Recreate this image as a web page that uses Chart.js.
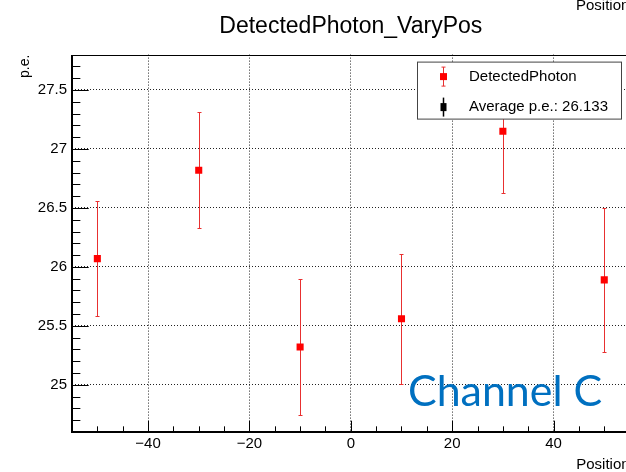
<!DOCTYPE html>
<html>
<head>
<meta charset="utf-8">
<title>DetectedPhoton_VaryPos</title>
<script src="https://cdn.jsdelivr.net/npm/chart.js@4/dist/chart.umd.min.js"></script>
<style>
  html, body { margin: 0; padding: 0; background: #fff; overflow: hidden; }
  #wrap { width: 640px; height: 472px; }
</style>
</head>
<body>
<div id="wrap"><canvas id="peChart" width="640" height="472"></canvas></div>
<script>
// 위치별 검출 광자수 (p.e.) + 오차
const positions = [-50, -30, -10, 10, 30, 50];
const detectedPE = [26.07, 26.82, 25.32, 25.56, 27.15, 25.89];
const peErrors = [0.49, 0.49, 0.58, 0.55, 0.52, 0.61];

// 축 눈금
const xTicks = [-40, -20, 0, 20, 40];
const yTicks = [25, 25.5, 26, 26.5, 27, 27.5];
const xRange = [-55, 55];
const yRange = [24.6, 27.8];
const xMinorStep = 5;
const yMinorStep = 0.1;

const seriesLabel = 'DetectedPhoton';
const averageLabel = 'Average p.e.: 26.133';
const channelLabel = 'Channel C';

const FONT = "'Liberation Sans', Arial, Helvetica, sans-serif";
const RED = '#ff0000';
const ERR_RED = '#e83030';

Chart.defaults.font.family = FONT;
Chart.defaults.color = '#000';

// 오차 막대 (데이터 점 아래에 그림)
const errorBars = {
  id: 'errorBars',
  beforeDatasetsDraw(chart) {
    const { ctx, scales: { x, y } } = chart;
    const pts = chart.data.datasets[0].data;
    ctx.save();
    ctx.strokeStyle = ERR_RED;
    ctx.lineWidth = 1;
    ctx.beginPath();
    pts.forEach((p, i) => {
      const px = Math.round(x.getPixelForValue(p.x)) + 0.5;
      const hi = Math.round(y.getPixelForValue(p.y + peErrors[i])) + 0.5;
      const lo = Math.round(y.getPixelForValue(p.y - peErrors[i])) + 0.5;
      ctx.moveTo(px, hi); ctx.lineTo(px, lo);
      ctx.moveTo(px - 2, hi); ctx.lineTo(px + 2, hi);
      ctx.moveTo(px - 2, lo); ctx.lineTo(px + 2, lo);
    });
    ctx.stroke();
    ctx.restore();
  },
};

// ROOT 스타일: 안쪽 눈금 + 프레임
const rootFrame = {
  id: 'rootFrame',
  afterDatasetsDraw(chart) {
    const { ctx, chartArea: a, scales: { x, y } } = chart;
    const xLen = 0.03 * (a.bottom - a.top);
    const yLen = 0.03 * (a.right - a.left);
    ctx.save();
    ctx.strokeStyle = '#000';
    ctx.lineWidth = 1;
    ctx.beginPath();
    for (let v = Math.ceil(x.min / xMinorStep) * xMinorStep; v <= x.max; v += xMinorStep) {
      const px = Math.round(x.getPixelForValue(v)) + 0.5;
      const len = xTicks.includes(v) ? xLen : xLen / 2;
      ctx.moveTo(px, a.bottom); ctx.lineTo(px, a.bottom - len);
    }
    const i0 = Math.ceil(y.min / yMinorStep - 1e-6);
    const i1 = Math.floor(y.max / yMinorStep + 1e-6);
    for (let i = i0; i <= i1; i++) {
      const v = i * yMinorStep;
      const py = Math.round(y.getPixelForValue(v)) + 0.5;
      const len = i % 5 === 0 ? yLen : yLen / 2;
      ctx.moveTo(a.left, py); ctx.lineTo(a.left + len, py);
    }
    ctx.stroke();

    ctx.lineWidth = 1;
    ctx.strokeRect(Math.round(a.left) + 0.5, Math.round(a.top) + 0.5,
      Math.round(a.right - a.left), Math.round(a.bottom - a.top));
    ctx.lineWidth = 2;
    ctx.beginPath();
    ctx.moveTo(Math.round(a.left), Math.round(a.top));
    ctx.lineTo(Math.round(a.left), Math.round(a.bottom));
    ctx.lineTo(Math.round(a.right), Math.round(a.bottom));
    ctx.stroke();
    ctx.restore();
  },
  afterDraw(chart) {
    const { ctx, chartArea: a } = chart;
    ctx.save();

    // 범례 박스
    const bx = a.left + 345.5, by = a.top + 7.5, bw = 204, bh = 57;
    ctx.fillStyle = '#fff';
    ctx.fillRect(bx, by, bw, bh);
    ctx.strokeStyle = '#444';
    ctx.lineWidth = 1;
    ctx.strokeRect(bx, by, bw, bh);

    const mx = Math.round(bx + 25) + 0.5;
    const r1 = by + 14.5, r2 = by + 45;
    ctx.strokeStyle = ERR_RED;
    ctx.beginPath();
    ctx.moveTo(mx, r1 - 9.5); ctx.lineTo(mx, r1 + 9.5);
    ctx.moveTo(mx - 2, r1 - 9.5); ctx.lineTo(mx + 2, r1 - 9.5);
    ctx.moveTo(mx - 2, r1 + 9.5); ctx.lineTo(mx + 2, r1 + 9.5);
    ctx.stroke();
    ctx.fillStyle = RED;
    ctx.fillRect(mx - 3.5, r1 - 3.5, 7, 7);

    ctx.strokeStyle = '#000';
    ctx.lineWidth = 1.5;
    ctx.beginPath();
    ctx.moveTo(mx, r2 - 9.5); ctx.lineTo(mx, r2 + 9.5);
    ctx.stroke();
    ctx.fillStyle = '#000';
    ctx.fillRect(mx - 3, r2 - 4, 6, 8);

    ctx.fillStyle = '#000';
    ctx.font = '15px ' + FONT;
    ctx.textBaseline = 'middle';
    ctx.textAlign = 'left';
    ctx.fillText(chart.data.datasets[0].label, bx + 51.5, r1);
    ctx.fillText(averageLabel, bx + 51.5, r2);

    // 채널 표시
    ctx.font = "100px Lato, 'Noto Sans', sans-serif";
    const size = 100 * 194 / ctx.measureText(channelLabel).width;
    ctx.font = size.toFixed(1) + "px Lato, 'Noto Sans', sans-serif";
    ctx.fillStyle = '#0070c0';
    ctx.textBaseline = 'alphabetic';
    ctx.fillText(channelLabel, 408, 406);

    // 위쪽 잘린 축 제목
    ctx.fillStyle = '#000';
    ctx.font = '15px ' + FONT;
    ctx.fillText(chart.options.scales.x.title.text, 576, 10);
    ctx.restore();
  },
};

new Chart(document.getElementById('peChart'), {
  type: 'scatter',
  data: {
    datasets: [
      {
        label: seriesLabel,
        data: positions.map((p, i) => ({ x: p, y: detectedPE[i] })),
        pointStyle: 'rect',
        pointRadius: 5,
        pointBackgroundColor: RED,
        pointBorderWidth: 0,
        showLine: false,
      },
    ],
  },
  options: {
    responsive: false,
    animation: false,
    devicePixelRatio: 1,
    layout: { padding: { left: 0, right: 10.4, top: 0, bottom: 0 } },
    plugins: {
      legend: { display: false },
      tooltip: { enabled: false },
      title: {
        display: true,
        text: 'DetectedPhoton_VaryPos',
        fullSize: false,
        color: '#000',
        font: { size: 23, weight: 'normal' },
        padding: { top: 13, bottom: 14 },
      },
    },
    scales: {
      x: {
        type: 'linear',
        min: xRange[0],
        max: xRange[1],
        afterBuildTicks: (s) => { s.ticks = xTicks.map((v) => ({ value: v })); },
        afterFit: (s) => { s.height = 40; },
        ticks: {
          font: { size: 15 },
          color: '#000',
          padding: 3,
          maxRotation: 0,
          callback: (v) => String(v).replace('-', '\u2212'),
        },
        grid: { color: '#222', lineWidth: 1, drawTicks: false },
        border: { display: false, dash: [1, 2] },
        title: {
          display: true,
          text: 'Position',
          align: 'end',
          color: '#000',
          font: { size: 15, lineHeight: 1 },
          padding: { top: 0, bottom: 0 },
        },
      },
      y: {
        type: 'linear',
        min: yRange[0],
        max: yRange[1],
        afterBuildTicks: (s) => { s.ticks = yTicks.map((v) => ({ value: v })); },
        afterFit: (s) => { s.width = 72; },
        ticks: { font: { size: 15 }, color: '#000', padding: 5, callback: (v) => String(v) },
        grid: { color: '#222', lineWidth: 1, drawTicks: false },
        border: { display: false, dash: [1, 2] },
        title: {
          display: true,
          text: 'p.e.',
          align: 'end',
          color: '#000',
          font: { size: 14 },
          padding: { top: 17, bottom: 0 },
        },
      },
    },
  },
  plugins: [errorBars, rootFrame],
});
</script>
</body>
</html>
